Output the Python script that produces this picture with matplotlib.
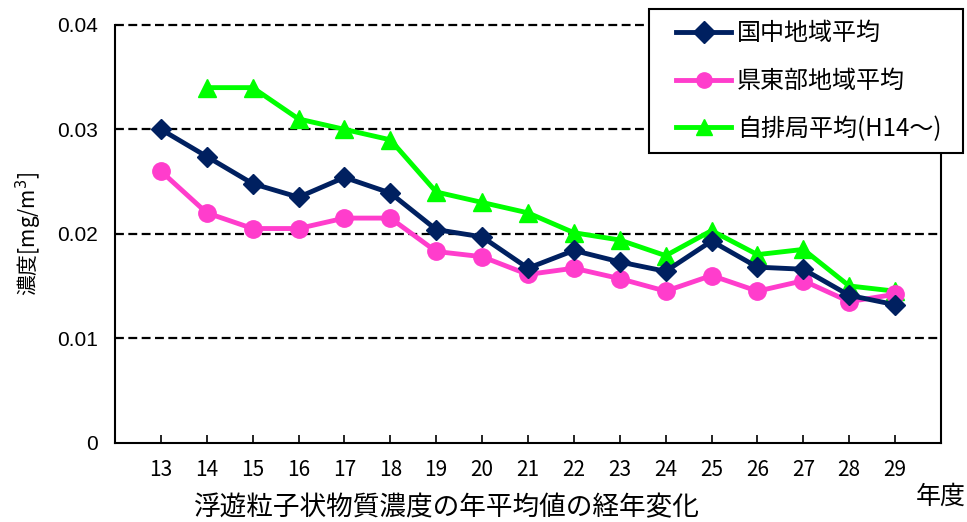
import matplotlib
matplotlib.use("Agg")
import matplotlib.pyplot as plt
from matplotlib.patches import Rectangle
import numpy as np

plt.rcParams['font.family'] = ['Noto Sans CJK JP', 'DejaVu Sans']

years = ["13", "14", "15", "16", "17", "18", "19", "20", "21", "22", "23", "24", "25", "26", "27", "28", "29"]
kokuchu = [0.0300, 0.0274, 0.0248, 0.0235, 0.0254, 0.0239, 0.0204, 0.0197, 0.0167, 0.0184, 0.0173, 0.0164, 0.0193, 0.0168, 0.0166, 0.0141, 0.0132]
kentobu = [0.0260, 0.0220, 0.0205, 0.0205, 0.0215, 0.0215, 0.0183, 0.0178, 0.0161, 0.0167, 0.0157, 0.0145, 0.0160, 0.0145, 0.0155, 0.0135, 0.0142]
jihaikyoku = [np.nan, 0.0340, 0.0340, 0.0310, 0.0300, 0.0290, 0.0240, 0.0230, 0.0220, 0.0201, 0.0194, 0.0179, 0.0203, 0.0180, 0.0185, 0.0150, 0.0145]

labels = ["国中地域平均", "県東部地域平均", "自排局平均(H14～)"]
colors = ["#002060", "#FF3DCC", "#00FF00"]

W, H = 967, 522
fig = plt.figure(figsize=(W/100, H/100), dpi=100)
ax = fig.add_axes([115/W, 1-442.5/H, (941-115)/W, (442.5-25)/H])

x = np.arange(len(years))
l1, = ax.plot(x, kokuchu, color=colors[0], lw=3.5, marker='D', ms=10.5, zorder=5)
l2, = ax.plot(x, kentobu, color=colors[1], lw=3.5, marker='o', ms=12.5, zorder=4)
l3, = ax.plot(x, jihaikyoku, color=colors[2], lw=3.5, marker='^', ms=12.5, zorder=3)

ax.set_xlim(-1, len(years))
ax.set_ylim(0, 0.04)
ax.set_yticks([0, 0.01, 0.02, 0.03, 0.04])
ax.set_yticklabels(["0", "0.01", "0.02", "0.03", "0.04"], family=['Liberation Sans'], fontsize=15)
ax.set_xticks(x)
ax.set_xticklabels(years, fontsize=15)
ax.tick_params(axis='x', direction='in', length=6, width=1.2, pad=12)
ax.tick_params(axis='y', direction='in', length=0, pad=12)

for v in [0.01, 0.02, 0.03, 0.04]:
    ax.axhline(v, color='black', lw=1.6, ls=(0, (4, 2)), zorder=1, clip_on=False)

ax.spines['top'].set_visible(False)
for s in ['left', 'right', 'bottom']:
    ax.spines[s].set_linewidth(1.5)

ax.set_ylabel("濃度[mg/m$^3$]", fontsize=15, labelpad=10)

fig.text(447/W, 1-508/H, "浮遊粒子状物質濃度の年平均値の経年変化", fontsize=19.2, ha='center', va='center')
fig.text(941/W, 1-497/H, "年度", fontsize=18, ha='center', va='center')

# legend box
fig.patches.append(Rectangle((649/W, 1-153/H), (963-649)/W, (153-9)/H, transform=fig.transFigure,
                             facecolor='white', edgecolor='black', lw=1.5, zorder=10))
leg = fig.legend([l1, l2, l3], labels, loc='center left', bbox_to_anchor=(676/W, 1-81/H),
                 fontsize=17.3, frameon=False,
                 handlelength=2.3, handletextpad=0.25, labelspacing=0.9, borderpad=0, borderaxespad=0)
leg.set_zorder(11)
for h in leg.legend_handles:
    h.set_markersize(11)

fig.savefig("out.png", dpi=100)
